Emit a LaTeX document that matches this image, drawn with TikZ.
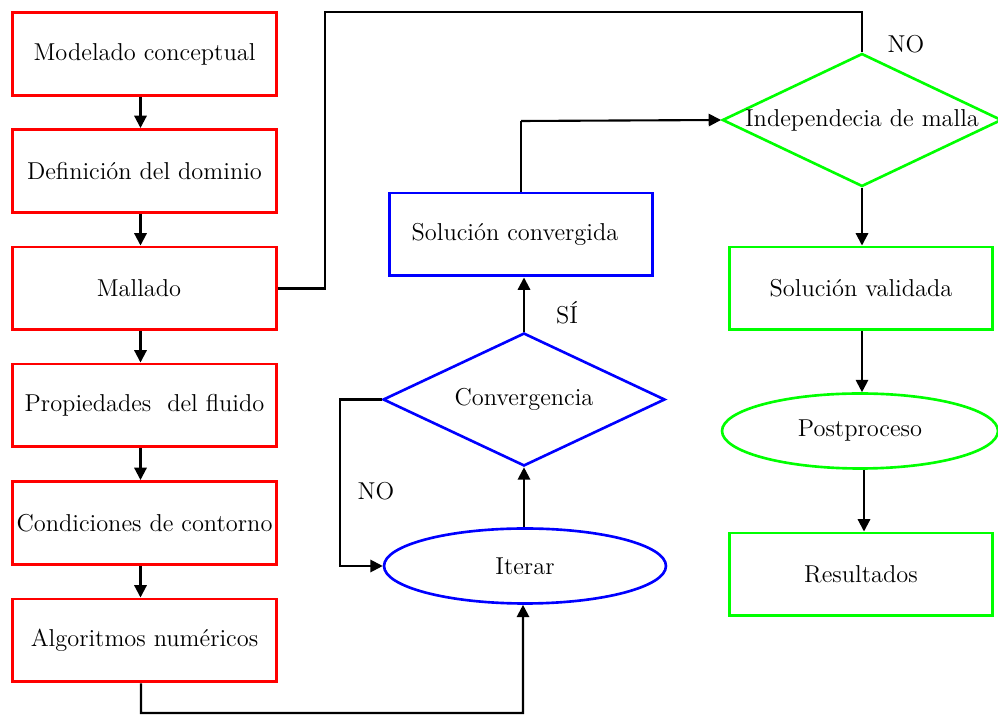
\documentclass[tikz,border=0pt]{standalone}
\usetikzlibrary{shapes.geometric,arrows.meta}
\begin{document}
\begin{tikzpicture}[x=0.02cm,y=-0.02cm,
  every node/.style={font=\fontsize{13.9}{16}\selectfont},
  redbox/.style={draw=red,line width=1.7pt,minimum width=5.3cm,minimum height=1.66cm,inner sep=0pt},
  greenbox/.style={draw=green,line width=1.7pt,minimum width=5.28cm,minimum height=1.66cm,inner sep=0pt},
  bluebox/.style={draw=blue,line width=1.7pt,minimum width=5.28cm,minimum height=1.66cm,inner sep=0pt},
  decision/.style={diamond,aspect=2.1,line width=1.5pt,inner sep=0pt},
  terminal/.style={ellipse,line width=1.5pt,inner sep=0pt},
  conn/.style={black,line width=1.2pt},
  arr/.style={conn,-{Triangle[length=7pt,width=7pt]}},
  lbl/.style={inner sep=0pt}]
\useasboundingbox (0,0) rectangle (998,715);

% preprocessing chain
\node[redbox] (m1) at (144.5,54) {Modelado conceptual};
\node[redbox] (m2) at (144.5,171) {Definición del dominio};
\node[redbox] (m3) at (144.5,288.5) {};
\node[lbl] at (139,288.5) {Mallado};
\node[redbox] (m4) at (144.5,405.5) {Propiedades\ \ del fluido};
\node[redbox] (m5) at (144.5,523) {Condiciones de contorno};
\node[redbox] (m6) at (144.5,640.5) {Algoritmos numéricos};

\foreach \a/\b in {m1/m2,m2/m3,m3/m4,m4/m5,m5/m6}
  \draw[arr] ([xshift=-0.08cm]\a.south) -- ([xshift=-0.08cm]\b.north);

% solver loop
\node[terminal,draw=blue,minimum width=5.64cm,minimum height=1.5cm] (it) at (525,566) {Iterar};
\node[decision,draw=blue,minimum width=5.64cm,minimum height=2.66cm] (cv) at (524,399.5) {Convergencia};
\node[bluebox] (sc) at (521,234.5) {};
\node[lbl] at (515,234.5) {Solución convergida};

\coordinate (c6) at (141,713);
\draw[arr] ([xshift=-0.07cm]m6.south) -- (c6) -| ([xshift=-0.04cm]it.south);
\draw[arr] ([xshift=-0.02cm]it.north) -- ([xshift=-0.02cm]it.north |- cv.south);
\draw[arr] (cv.north) -- (cv.north |- sc.south);
\coordinate (cl) at (340,399.5);
\draw[arr] (cv.west) -- (cl) |- (it.west);
\node[lbl] at (567,313) {SÍ};
\node[lbl] at (376,491) {NO};

% validation
\node[decision,draw=green,minimum width=5.52cm,minimum height=2.66cm] (im) at (862,120) {Independecia de malla};
\node[greenbox] (sv) at (861,288.5) {Solución validada};
\node[terminal,draw=green,minimum width=5.52cm,minimum height=1.5cm] (pp) at (860,431) {Postproceso};
\node[greenbox] (rs) at (861,574.5) {Resultados};

\coordinate (sci) at (521,121);
\draw[conn] (sc.north) -- (sci);
\draw[arr] (sci) -- (im.west);
\draw[arr] (im.south) -- (im.south |- sv.north);
\draw[arr] (im.south |- sv.south) -- (im.south |- pp.north);
\draw[arr] ([xshift=0.04cm]im.south |- pp.south) -- ([xshift=0.04cm]im.south |- rs.north);

% remeshing return path
\coordinate (r2) at (325,12);
\coordinate (r3) at (862,12);
\draw[conn] (m3.east) -- (m3.east -| r2) -- (r2) -- (r3) -- (im.north);
\node[lbl] at (906,44) {NO};
\end{tikzpicture}
\end{document}
